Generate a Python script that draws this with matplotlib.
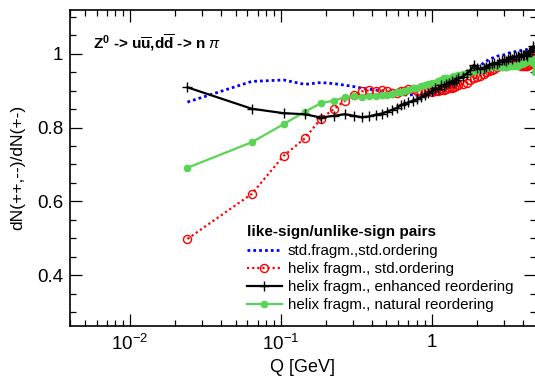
import matplotlib
matplotlib.use("Agg")
import matplotlib.pyplot as plt
from matplotlib.ticker import FixedLocator, NullFormatter, LogLocator, MultipleLocator, FixedFormatter

plt.rcParams['font.family'] = ['Liberation Sans', 'DejaVu Sans']
plt.rcParams['mathtext.fontset'] = 'custom'
plt.rcParams['mathtext.rm'] = 'Liberation Sans'
plt.rcParams['mathtext.it'] = 'Liberation Sans:italic'
plt.rcParams['mathtext.bf'] = 'Liberation Sans:bold'

# ---- data ----
Q = [0.024, 0.064, 0.104, 0.144, 0.184, 0.224, 0.264, 0.304, 0.344, 0.384,
     0.424, 0.464, 0.504, 0.544, 0.584, 0.624,
     0.65, 0.70, 0.75, 0.80, 0.85, 0.90, 0.95, 1.00, 1.05, 1.10, 1.15, 1.20,
     1.25, 1.30, 1.35, 1.40, 1.45, 1.50,
     1.6, 1.7, 1.8, 1.9, 2.0, 2.1, 2.2, 2.3, 2.4, 2.5, 2.6, 2.7, 2.8, 2.9,
     3.0, 3.1, 3.2, 3.3, 3.4, 3.5, 3.6, 3.7, 3.8, 3.9, 4.0, 4.1, 4.2, 4.3,
     4.4, 4.5, 4.6, 4.7, 4.8]

std_std = [0.869, 0.925, 0.929, 0.917, 0.922, 0.919, 0.915, 0.911, 0.907, 0.904,
           0.902, 0.898, 0.895, 0.892, 0.889, 0.889,
           0.889, 0.888, 0.889, 0.887, 0.889, 0.888, 0.890, 0.889, 0.891, 0.889,
           0.895, 0.900, 0.905, 0.908, 0.912, 0.918, 0.924, 0.928,
           0.934, 0.942, 0.948, 0.952, 0.960, 0.968, 0.975, 0.980, 0.985, 0.988,
           0.990, 0.993, 0.995, 0.996, 0.997, 0.999, 1.001, 1.003, 1.004, 1.005,
           1.006, 1.007, 1.008, 1.009, 1.010, 1.011, 1.011, 1.012, 1.013, 1.014,
           1.015, 1.016, 1.017]

helix_std = [0.498, 0.620, 0.723, 0.771, 0.824, 0.850, 0.872, 0.889, 0.898, 0.901,
             0.900, 0.902, 0.898, 0.894, 0.893, 0.898,
             0.900, 0.905, 0.904, 0.900, 0.897, 0.896, 0.898, 0.897, 0.899, 0.900,
             0.902, 0.901, 0.904, 0.906, 0.908, 0.910, 0.912, 0.914,
             0.918, 0.922, 0.928, 0.933, 0.936, 0.940, 0.946, 0.950, 0.953, 0.957,
             0.960, 0.963, 0.966, 0.968, 0.970, 0.968, 0.972, 0.974, 0.973, 0.975,
             0.972, 0.974, 0.970, 0.968, 0.966, 0.967, 0.966, 0.968, 0.970, 0.972,
             0.975, 0.985, 0.995]

helix_enh = [0.909, 0.851, 0.839, 0.836, 0.827, 0.832, 0.836, 0.832, 0.828, 0.830,
             0.835, 0.838, 0.843, 0.848, 0.853, 0.860,
             0.864, 0.868, 0.873, 0.877, 0.882, 0.888, 0.893, 0.900, 0.906, 0.904,
             0.914, 0.912, 0.918, 0.922, 0.925, 0.921, 0.930, 0.934,
             0.938, 0.946, 0.955, 0.970, 0.962, 0.958, 0.961, 0.965, 0.969, 0.973,
             0.975, 0.972, 0.979, 0.982, 0.984, 0.980, 0.987, 0.990, 0.986, 0.993,
             0.991, 0.995, 0.992, 0.998, 0.996, 0.997, 1.000, 0.995, 1.004, 1.008,
             1.011, 1.020, 1.015]

helix_nat = [0.691, 0.760, 0.809, 0.843, 0.866, 0.873, 0.882, 0.886, 0.884, 0.886,
             0.885, 0.887, 0.889, 0.892, 0.895, 0.897,
             0.900, 0.903, 0.906, 0.908, 0.912, 0.915, 0.918, 0.922, 0.920, 0.926,
             0.929, 0.933, 0.935, 0.932, 0.937, 0.940, 0.938, 0.942,
             0.944, 0.946, 0.950, 0.953, 0.957, 0.955, 0.960, 0.962, 0.964, 0.966,
             0.966, 0.964, 0.967, 0.965, 0.966, 0.963, 0.967, 0.966, 0.968, 0.967,
             0.970, 0.968, 0.972, 0.971, 0.974, 0.976, 0.978, 0.980, 0.983, 0.985,
             0.986, 0.975, 0.950]

labels = ["std.fragm.,std.ordering", "helix fragm., std.ordering",
          "helix fragm., enhanced reordering", "helix fragm., natural reordering"]
legend_title = "like-sign/unlike-sign pairs"
xticks = [0.01, 0.1, 1]
xticklabels = [r"$10^{-2}$", r"$10^{-1}$", "1"]
yticks = [0.4, 0.6, 0.8, 1.0]
yticklabels = ["0.4", "0.6", "0.8", "1"]

# ---- figure ----
W, H = 535, 381
fig = plt.figure(figsize=(W / 100, H / 100), dpi=100)
L, R, T, B = 70, 536, 9.5, 326
ax = fig.add_axes([L / W, (H - B) / H, (R - L) / W, (B - T) / H])

blue = '#0000ff'
red = '#ff0000'
green = '#59d454'

ax.plot(Q, std_std, color=blue, lw=2.0, ls=(0, (1, 1.1)), label=labels[0], zorder=2)
ax.plot(Q, helix_std, color=red, lw=1.6, ls=(0, (1, 1.3)), marker='o', ms=5.8,
        mfc='none', mec=red, mew=1.0, label=labels[1], zorder=3)
ax.plot(Q, helix_enh, color='black', lw=1.6, ls='-', marker='+', ms=7, mew=1.0,
        label=labels[2], zorder=5)
ax.plot(Q, helix_nat, color=green, lw=1.6, ls='-', marker='o', ms=4.5,
        mfc=green, mec=green, label=labels[3], zorder=4)

ax.set_xscale('log')
ax.set_xlim(0.004, 4.9)
ax.set_ylim(0.262, 1.12)

ax.xaxis.set_major_locator(FixedLocator(xticks))
ax.xaxis.set_major_formatter(FixedFormatter(xticklabels))
ax.xaxis.set_minor_locator(LogLocator(base=10, subs=range(2, 10), numticks=20))
ax.xaxis.set_minor_formatter(NullFormatter())
ax.yaxis.set_major_locator(FixedLocator(yticks))
ax.yaxis.set_major_formatter(FixedFormatter(yticklabels))
ax.yaxis.set_minor_locator(MultipleLocator(0.05))

ax.tick_params(which='both', direction='in', top=True, right=True, width=0.9,
               labelsize=13.5)
ax.tick_params(which='major', length=8.6)
ax.tick_params(which='minor', length=4.3)
ax.tick_params(axis='y', pad=5)
ax.tick_params(axis='x', pad=6)
for s in ax.spines.values():
    s.set_linewidth(1.2)

ax.set_xlabel("Q [GeV]", fontsize=13)
ax.set_ylabel("dN(++,--)/dN(+-)", fontsize=12.5)
ax.xaxis.set_label_coords(0.5, -0.105)
ax.yaxis.set_label_coords(-0.095, 0.5)

ax.text(0.049, 0.894,
        r"Z$^{\mathbf{0}}$ -> u$\overline{\mathbf{u}}$,d$\overline{\mathbf{d}}$ -> n $\pi$",
        transform=ax.transAxes, fontsize=11, fontweight='bold', va='center', ha='left')

leg = ax.legend(loc='upper left', bbox_to_anchor=(247 / W, (H - 225) / H),
                bbox_transform=fig.transFigure, frameon=False, borderpad=0,
                title=legend_title, alignment='left',
                title_fontproperties={'weight': 'bold', 'size': 11},
                fontsize=10.9, handlelength=2.3, handletextpad=0.4,
                labelspacing=0.27, borderaxespad=0, markerscale=1.0)
leg._legend_box.sep = 3.5

fig.savefig("out.png", dpi=100)
